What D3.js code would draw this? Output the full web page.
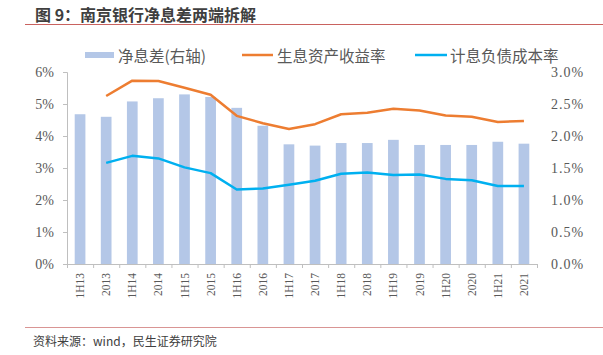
<!DOCTYPE html>
<html><head><meta charset="utf-8">
<script src="https://cdn.jsdelivr.net/npm/d3@7"></script>
<style>
html,body{margin:0;padding:0;background:#fff;}
svg{display:block;}
</style></head>
<body><svg id="c" width="603" height="355"></svg>
<script>
const categories = ["1H13","2013","1H14","2014","1H15","2015","1H16","2016","1H17","2017","1H18","2018","1H19","2019","1H20","2020","1H21","2021"];
const nim = [2.34,2.30,2.54,2.59,2.65,2.61,2.44,2.16,1.87,1.85,1.89,1.89,1.94,1.86,1.86,1.86,1.91,1.88];
const assetYield = [null,5.25,5.73,5.72,5.51,5.29,4.63,4.40,4.22,4.37,4.68,4.73,4.85,4.80,4.64,4.60,4.44,4.47];
const liabCost = [null,3.16,3.38,3.30,3.02,2.84,2.33,2.36,2.48,2.60,2.82,2.86,2.78,2.80,2.66,2.62,2.44,2.44];
const leftTicks = [0,1,2,3,4,5,6];
const rightTicks = [0,0.5,1.0,1.5,2.0,2.5,3.0];
const legendLabels = ["净息差(右轴)","生息资产收益率","计息负债成本率"];
const titleText = "图 9：南京银行净息差两端拆解";
const sourceText = "资料来源：wind，民生证券研究院";

const svg = d3.select("#c");
const L = 67, R = 537, T = 72, B = 264;
const cjk = "'Noto Sans CJK SC','Noto Sans',sans-serif";
const serif = "'Liberation Serif','DejaVu Serif',serif";
const gray = "#595959";

// title & rules
svg.append("text").attr("x",35).attr("y",14).attr("dominant-baseline","central")
  .attr("font-family",cjk).attr("font-weight","bold").attr("font-size",16).attr("fill","#3f3f3f").text(titleText);
svg.append("line").attr("x1",25).attr("x2",603).attr("y1",24.5).attr("y2",24.5).attr("stroke","#c9625f").attr("stroke-width",1);
svg.append("line").attr("x1",25).attr("x2",603).attr("y1",327.5).attr("y2",327.5).attr("stroke","#d99594").attr("stroke-width",1);
svg.append("text").attr("x",33).attr("y",340).attr("dominant-baseline","central")
  .attr("font-family",cjk).attr("font-size",12).attr("fill","#404040").text(sourceText);

const x = d3.scaleBand().domain(categories).range([L,R]).paddingInner(0.59).paddingOuter(0.295);
const xi = d3.scaleLinear().domain([0,categories.length]).range([L,R]);
const yL = d3.scaleLinear().domain([0,6]).range([B,T]);
const yR = d3.scaleLinear().domain([0,3]).range([B,T]);

// bars
svg.append("g").selectAll("rect").data(nim).join("rect")
  .attr("x",(d,i)=>x(categories[i])).attr("width",x.bandwidth())
  .attr("y",d=>yR(d)).attr("height",d=>B-yR(d)).attr("fill","#b4c7e7");

// axes
const gl = svg.append("g").attr("transform",`translate(${L},0)`)
  .call(d3.axisLeft(yL).tickValues(leftTicks).tickSize(4).tickSizeOuter(4).tickPadding(9).tickFormat(d=>d+"%"));
const gr = svg.append("g").attr("transform",`translate(${R},0)`)
  .call(d3.axisRight(yR).tickValues(rightTicks).tickSize(0).tickPadding(14).tickFormat(d=>d.toFixed(1)+"%"));
gr.select(".domain").remove();
const gb = svg.append("g").attr("transform",`translate(0,${B})`)
  .call(d3.axisBottom(xi).tickValues(d3.range(categories.length+1)).tickSize(4).tickSizeOuter(0).tickFormat(""));
const gx = svg.append("g").attr("transform",`translate(0,${B})`)
  .call(d3.axisBottom(x).tickSize(0).tickPadding(0));
gx.select(".domain").remove();
gx.selectAll("text").attr("transform","rotate(-90)").attr("text-anchor","end")
  .attr("x",-9).attr("y",0).attr("dy","0.35em");
[gl,gr,gb,gx].forEach(g=>{
  g.selectAll(".domain").attr("stroke","#bfbfbf");
  g.selectAll(".tick line").attr("stroke","#bfbfbf");
  g.selectAll("text").attr("font-family",serif).attr("fill",gray);
});
gl.selectAll("text").attr("font-size",14);
gr.selectAll("text").attr("font-size",14).attr("letter-spacing","1px");
gx.selectAll("text").attr("font-size",11.5);

// lines
const cx = (i)=>x(categories[i])+x.bandwidth()/2;
const line = d3.line().defined(d=>d[1]!=null).x(d=>cx(d[0])).y(d=>yL(d[1]));
svg.append("path").datum(assetYield.map((v,i)=>[i,v])).attr("d",line)
  .attr("fill","none").attr("stroke","#ed7d31").attr("stroke-width",2.5).attr("stroke-linejoin","round");
svg.append("path").datum(liabCost.map((v,i)=>[i,v])).attr("d",line)
  .attr("fill","none").attr("stroke","#00b0f0").attr("stroke-width",2.5).attr("stroke-linejoin","round");

// legend
const ly = 55;
const lg = svg.append("g");
lg.append("rect").attr("x",85).attr("y",ly-3).attr("width",29).attr("height",6).attr("fill","#b4c7e7");
lg.append("line").attr("x1",242).attr("x2",273).attr("y1",ly).attr("y2",ly).attr("stroke","#ed7d31").attr("stroke-width",2.5);
lg.append("line").attr("x1",415).attr("x2",447).attr("y1",ly).attr("y2",ly).attr("stroke","#00b0f0").attr("stroke-width",2.5);
const lx = [118,277,450];
legendLabels.forEach((t,i)=>{
  lg.append("text").attr("x",lx[i]).attr("y",ly).attr("dominant-baseline","central")
    .attr("font-family",cjk).attr("font-size",15.5).attr("fill",gray).text(t);
});
</script></body></html>
